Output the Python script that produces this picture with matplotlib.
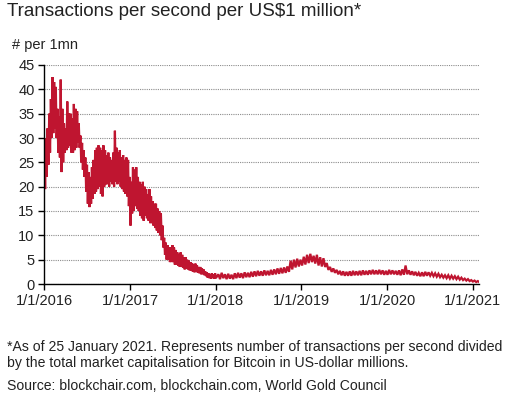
import numpy as np
import pandas as pd
import matplotlib
matplotlib.use("Agg")
import matplotlib.pyplot as plt

plt.rcParams['font.family'] = ['Liberation Sans', 'DejaVu Sans']

# ---- data (upper / lower edge of the noisy daily band) ----
# weekly, from 1 Jan 2016 to end of 2017
hi_2016_17 = [28, 30, 32, 35, 38, 42.5, 41.5, 40.5, 36, 34.5,
              42, 36, 33, 32, 37.5, 35, 35, 34, 37, 36,
              35.5, 33, 30.5, 29, 27.5, 26, 24.5, 23, 22, 24,
              25.5, 27.5, 28, 28.5, 28, 27.5, 28.5, 27.5, 26.5, 27,
              26, 25.5, 27, 31.5, 28, 27, 27.5, 26, 26.5, 25.5,
              26, 25.5, 22, 21, 24, 23.5, 24, 22, 21, 20.5,
              21, 20, 19.5, 18.5, 19.5, 18, 17, 16.5, 16.5, 15.5,
              15, 14.5, 12, 9.5, 8.5, 8, 7.5, 7.5, 8, 7.5,
              7, 6.5, 6, 6.5, 6, 5.5, 5.5, 5, 4.8, 4.5,
              4.3, 4, 4.2, 3.8, 3.5, 3.5, 3.2, 3, 2.6, 2.4,
              2.2, 2, 2.2, 2, 2.2]
lo_2016_17 = [19.5, 22, 24.5, 27, 30, 31, 32, 30, 27, 26,
              23, 25, 27, 27.5, 28, 28.5, 27, 27, 27.5, 28,
              29, 28, 25, 23.5, 22, 19, 16.5, 15.8, 16.5, 17.5,
              18.5, 19, 19.5, 20, 18.5, 18, 20, 20.5, 20.5, 20,
              21, 20.5, 20, 21, 20.5, 21, 20, 19.5, 19, 18.5,
              18, 16, 12, 14.5, 15, 16, 15.5, 15, 14, 13.5,
              13, 14, 13.5, 13, 12.5, 12.5, 12, 11.5, 11, 10.5,
              10, 9, 7.5, 6, 5, 5, 4.5, 4.5, 4.5, 4,
              4, 3.8, 3.5, 3.5, 3.3, 3, 3.2, 3, 2.8, 2.7,
              2.5, 2.4, 2.5, 2.3, 2.2, 2, 2, 1.8, 1.6, 1.3,
              1.2, 1.1, 1.2, 1.1, 1.2]
# fortnightly, from Jan 2018 to 25 Jan 2021
hi_2018_21 = [2.0, 2.3, 2.0, 2.1, 1.9, 2.2, 2.3, 2.2, 2.4, 2.3,
              2.5, 2.6, 2.7, 2.6, 2.8, 2.7, 2.9, 3.0, 3.2, 3.3,
              3.4, 3.6, 4.8, 5.0, 5.2, 5.0, 5.6, 6.0, 6.2, 5.8,
              6.0, 5.5, 5.3, 4.3, 3.5, 3.2, 2.9, 2.7, 2.6, 2.5,
              2.6, 2.7, 2.6, 2.7, 2.8, 2.7, 2.8, 2.9, 2.8, 2.9,
              2.8, 2.7, 2.9, 2.8, 2.7, 2.8, 3.0, 3.8, 2.8, 2.6,
              2.5, 2.3, 2.4, 2.5, 2.4, 2.3, 2.2, 2.1, 1.9, 1.8,
              1.8, 1.7, 1.6, 1.5, 1.3, 1.1, 1.0, 0.8, 0.7, 0.6]
lo_2018_21 = [1.0, 1.2, 1.0, 1.1, 1.0, 1.2, 1.3, 1.2, 1.4, 1.4,
              1.5, 1.6, 1.7, 1.7, 1.8, 1.8, 1.9, 2.0, 2.1, 2.2,
              2.3, 2.5, 3.0, 3.4, 3.6, 3.8, 4.0, 4.3, 4.5, 4.2,
              3.8, 3.6, 3.5, 2.9, 2.5, 2.3, 2.0, 1.8, 1.7, 1.7,
              1.7, 1.8, 1.8, 1.8, 1.9, 1.9, 2.0, 2.0, 2.0, 2.0,
              1.9, 1.9, 2.0, 2.0, 1.9, 1.8, 1.9, 2.0, 1.9, 1.8,
              1.7, 1.6, 1.6, 1.7, 1.7, 1.6, 1.5, 1.4, 1.3, 1.2,
              1.1, 1.1, 1.0, 0.9, 0.8, 0.7, 0.6, 0.5, 0.4, 0.35]

tick_dates = ['2016-01-01', '2017-01-01', '2018-01-01', '2019-01-01', '2020-01-01', '2021-01-01']
tick_labels = ['1/1/2016', '1/1/2017', '1/1/2018', '1/1/2019', '1/1/2020', '1/1/2021']
y_ticks = [0, 5, 10, 15, 20, 25, 30, 35, 40, 45]

title = "Transactions per second per US$1 million*"
unit_label = "# per 1mn"
note_lines = ["*As of 25 January 2021. Represents number of transactions per second divided",
              "by the total market capitalisation for Bitcoin in US-dollar millions."]
source = "Source: blockchair.com, blockchain.com, World Gold Council"

# ---- build the zig-zag series (upper and lower readings alternate) ----
d1 = pd.date_range('2016-01-01', periods=len(hi_2016_17), freq='7D')
d2 = pd.date_range('2018-01-12', periods=len(hi_2018_21), freq='14D')

def zigzag(dates, hi, lo, half):
    xs, ys = [], []
    for d, h, l in zip(dates, hi, lo):
        xs += [d, d + half]
        ys += [h, l]
    return xs, ys

x1, y1 = zigzag(d1, hi_2016_17, lo_2016_17, pd.Timedelta(days=3.5))
x2, y2 = zigzag(d2, hi_2018_21, lo_2018_21, pd.Timedelta(days=7))
xs = x1 + x2
ys = y1 + y2

W, H = 509, 397
fig = plt.figure(figsize=(W / 100, H / 100), dpi=100)
ax = fig.add_axes([44.3 / W, 1 - 284 / H, (479 - 44.3) / W, (284 - 65) / H])

red = '#BF1530'
ax.plot(xs, ys, color=red, lw=1.6, solid_joinstyle='miter')

ax.set_ylim(0, 45)
ax.set_xlim(pd.Timestamp('2016-01-01'), pd.Timestamp('2021-01-27'))
ax.set_yticks(y_ticks)
ax.set_xticks(pd.to_datetime(tick_dates))
ax.set_xticklabels(tick_labels)

ax.grid(axis='y', color='#8c8c8c', linestyle=(0, (1, 1)), linewidth=0.8)
ax.set_axisbelow(True)
for s in ['top', 'right']:
    ax.spines[s].set_visible(False)
for s in ['left', 'bottom']:
    ax.spines[s].set_color('black')
    ax.spines[s].set_linewidth(1.0)
ax.tick_params(axis='both', direction='out', length=4, width=1.0, colors='black',
               labelcolor='#222222', labelsize=10.5)
ax.tick_params(axis='y', pad=3)
ax.tick_params(axis='x', pad=3)

fig.text(7 / W, 1 - 12 / H, title, fontsize=13.5, color='#222222', va='center', ha='left')
fig.text(12 / W, 1 - 45 / H, unit_label, fontsize=10.5, color='#222222', va='center', ha='left')
fig.text(7 / W, 1 - 346.5 / H, note_lines[0], fontsize=10.1, color='#222222', va='center', ha='left')
fig.text(7 / W, 1 - 363.5 / H, note_lines[1], fontsize=10.1, color='#222222', va='center', ha='left')
fig.text(7 / W, 1 - 386.5 / H, source, fontsize=10.1, color='#222222', va='center', ha='left')

fig.savefig('out.png', dpi=100)
